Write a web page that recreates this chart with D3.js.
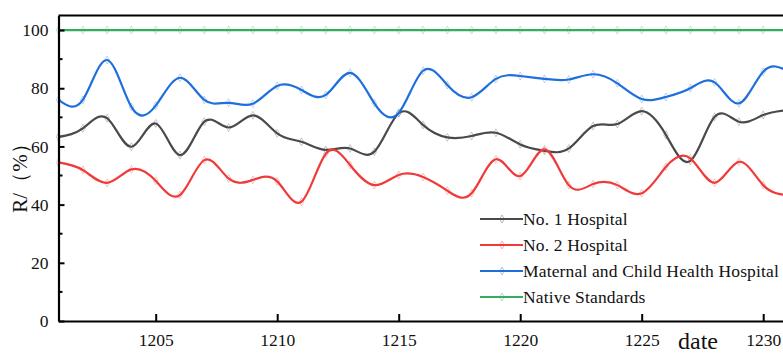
<html lang="en">
<head>
<style>
    body { margin: 0; background: #fff; }
    svg text { font-family: "Liberation Serif", "DejaVu Serif", serif !important; fill: #111; }
</style>
</head>
<body>
<script type='text/javascript' src='https://d3js.org/d3.v7.min.js'></script>
<script>
    // dates 1201 .. 1231
    var dates = d3.range(1201, 1232);
    var hospital1 = [63.3, 66.2, 69.7, 59.9, 67.9, 57.0, 68.5, 66.5, 70.7, 64.5, 61.6, 58.8, 59.3, 58.2, 71.4, 67.4,
        63.1, 63.6, 64.7, 60.7, 58.5, 59.3, 67.0, 67.7, 72.1, 63.9, 55.0, 70.2, 68.5, 70.8, 72.5];
    var hospital2 = [54.5, 51.9, 47.5, 52.1, 48.2, 43.3, 55.3, 49.0, 48.5, 48.0, 41.0, 57.5, 53.6, 46.7, 50.2, 49.5,
        44.8, 43.9, 55.6, 49.8, 59.0, 46.7, 47.1, 46.7, 43.9, 53.0, 55.9, 47.5, 54.7, 46.7, 43.3];
    var maternal = [76.0, 76.0, 89.7, 73.6, 74.0, 83.6, 76.0, 75.0, 74.7, 80.8, 79.4, 77.7, 85.3, 74.8, 71.5, 86.0,
        81.1, 76.9, 83.2, 84.2, 83.2, 83.0, 84.8, 81.7, 76.3, 77.0, 80.0, 82.0, 74.8, 85.7, 86.0];
    var standard = dates.map(function () { return 100; });
    var names = ["No. 1 Hospital", "No. 2 Hospital", "Maternal and Child Health Hospital", "Native Standards"];
    var colors = ["#4a4a4a", "#f03a3a", "#1e6fdc", "#34ad5e"];
    var xTicks = [1205, 1210, 1215, 1220, 1225, 1230];
    var yTicks = [0, 20, 40, 60, 80, 100];

    var series = [hospital1, hospital2, maternal, standard];
    var serif = '"Liberation Serif", "DejaVu Serif", serif';

    var width = 783, height = 353;
    var svg = d3.select("body").append("svg")
        .attr("width", width)
        .attr("height", height)
        .attr("font-family", serif);

    var x = d3.scaleLinear().domain([1201, 1231]).range([58.5, 787.5]);
    var y = d3.scaleLinear().domain([0, 105]).range([321, 15.5]);

    var line = d3.line()
        .x(function (d, i) { return x(dates[i]); })
        .y(function (d) { return y(d); })
        .curve(d3.curveNatural);

    // lines
    series.forEach(function (s, k) {
        svg.append("path")
            .attr("d", line(s))
            .attr("fill", "none")
            .attr("stroke", colors[k])
            .attr("stroke-width", 2.2);
        svg.selectAll(".m" + k)
            .data(s)
            .enter().append("path")
            .attr("d", d3.symbol().type(d3.symbolDiamond).size(18))
            .attr("transform", function (d, i) { return "translate(" + x(dates[i]) + "," + y(d) + ")"; })
            .attr("fill", "none")
            .attr("stroke", colors[k])
            .attr("stroke-opacity", 0.3)
            .attr("stroke-width", 1);
    });

    // axes
    var yAxis = d3.axisLeft(y).tickValues(yTicks).tickSizeInner(-6).tickSizeOuter(0).tickPadding(10);
    var gy = svg.append("g").attr("transform", "translate(" + x(1201) + ",0)").call(yAxis)
        .attr("font-family", serif).attr("font-size", 17.5);
    gy.selectAll(".tick line").attr("stroke-width", 2);
    // minor y ticks
    gy.selectAll(".minor").data([10, 30, 50, 70, 90])
        .enter().append("line")
        .attr("x1", 0).attr("x2", 4)
        .attr("y1", function (d) { return y(d); }).attr("y2", function (d) { return y(d); })
        .attr("stroke", "#000").attr("stroke-width", 2);

    var xAxis = d3.axisBottom(x).tickValues(xTicks).tickFormat(d3.format("d")).tickSizeInner(-7).tickSizeOuter(0).tickPadding(13);
    var gx = svg.append("g").attr("transform", "translate(0," + y(0) + ")").call(xAxis)
        .attr("font-family", serif).attr("font-size", 17.5);
    gx.selectAll(".tick line").attr("stroke-width", 2);

    svg.selectAll(".domain").attr("stroke-width", 2.2).attr("stroke", "#000");

    // top frame line
    svg.append("line")
        .attr("x1", x(1201)).attr("x2", width)
        .attr("y1", y(105)).attr("y2", y(105))
        .attr("stroke", "#000").attr("stroke-width", 2.2);

    // axis titles
    svg.append("text")
        .attr("transform", "translate(27,173) rotate(-90)")
        .attr("text-anchor", "middle")
        .attr("font-size", 21)
        .text("R/（%）");
    svg.append("text")
        .attr("x", 698).attr("y", 349)
        .attr("text-anchor", "middle")
        .attr("font-size", 24)
        .text("date");

    // legend
    var legend = svg.append("g");
    var labels = [];
    names.forEach(function (n, k) {
        var ly = 219 + k * 26;
        legend.append("line")
            .attr("x1", 480).attr("x2", 523)
            .attr("y1", ly).attr("y2", ly)
            .attr("stroke", colors[k]).attr("stroke-width", 2.2);
        legend.append("path")
            .attr("d", d3.symbol().type(d3.symbolDiamond).size(18))
            .attr("transform", "translate(502," + ly + ")")
            .attr("fill", "none").attr("stroke", colors[k]).attr("stroke-opacity", 0.4);
        labels.push(legend.append("text")
            .attr("x", 523).attr("y", ly + 6)
            .attr("font-size", 17.5)
            .text(n));
    });
    // widen the legend lettering a little so the longest label ends near the right edge
    var longest = labels[2].node().getComputedTextLength();
    var spacing = Math.max(0, (256 - longest) / names[2].length);
    labels.forEach(function (t) { t.attr("letter-spacing", spacing); });
</script>
</body>
</html>
